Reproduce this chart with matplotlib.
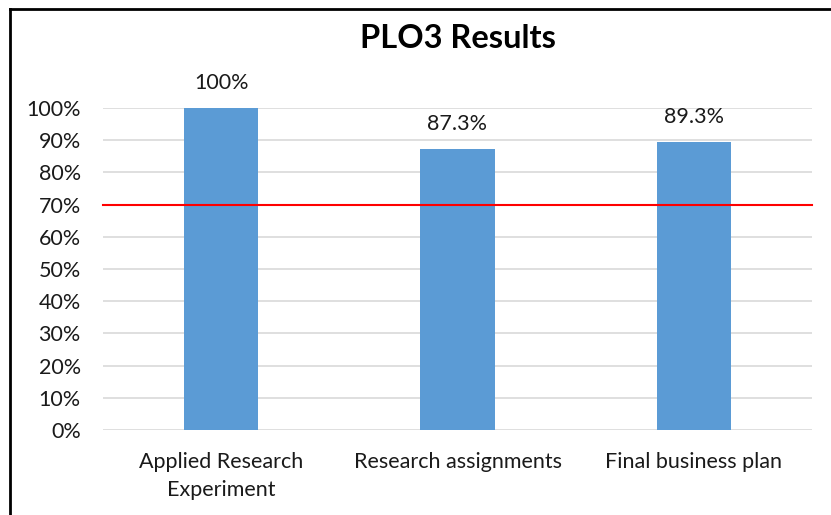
import matplotlib
matplotlib.use("Agg")
import matplotlib.pyplot as plt
from matplotlib.lines import Line2D
import numpy as np

categories = ["Applied Research\nExperiment", "Research assignments", "Final business plan"]
values = [100.0, 87.3, 89.3]
value_labels = ["100%", "87.3%", "89.3%"]
target = 70
yticks = [0, 10, 20, 30, 40, 50, 60, 70, 80, 90, 100]
title = "PLO3 Results"

plt.rcParams['font.family'] = ['Lato', 'DejaVu Sans']

W, H = 831, 515
fig = plt.figure(figsize=(W / 100, H / 100), dpi=100)
ax = fig.add_axes([103 / W, 1 - 430 / H, (812 - 103) / W, (430 - 108) / H])

x = np.arange(len(categories))
ax.bar(x, values, width=0.314, color="#5B9BD5", zorder=3)
ax.set_xlim(-0.5, len(categories) - 0.5)
ax.set_ylim(0, 100)
ax.set_yticks(yticks)
ax.set_yticklabels([f"{t}%" for t in yticks], fontsize=15.5)
ax.set_xticks(x)
ax.set_xticklabels(categories, fontsize=15.5, linespacing=1.5)
ax.tick_params(axis='both', length=0, colors="#1a1a1a")
ax.tick_params(axis='y', pad=16)
ax.tick_params(axis='x', pad=16)
ax.grid(axis='y', color="#d9d9d9", linewidth=1.2, zorder=0)
ax.set_axisbelow(True)
for s in ax.spines.values():
    s.set_visible(False)

ax.plot([-0.5, len(categories) - 0.5], [target, target], color="#ff0000",
        linewidth=1.5, zorder=4, clip_on=False)

for xi, v, lab in zip(x, values, value_labels):
    ax.annotate(lab, (xi, v), xytext=(0, 11), textcoords="offset points",
                ha="center", va="bottom", fontsize=15.5, color="#1a1a1a")

fig.text(458 / W, 1 - 38 / H, title, ha="center", va="center",
         fontsize=23.5, fontweight="bold", color="#000000")

# chart border (left and top visible)
fig.add_artist(Line2D([10 / W, 10 / W], [0, 1 - 9 / H], transform=fig.transFigure,
                      color="black", linewidth=2))
fig.add_artist(Line2D([10 / W, 1], [1 - 9 / H, 1 - 9 / H], transform=fig.transFigure,
                      color="black", linewidth=2))

fig.savefig("out.png", dpi=100)
